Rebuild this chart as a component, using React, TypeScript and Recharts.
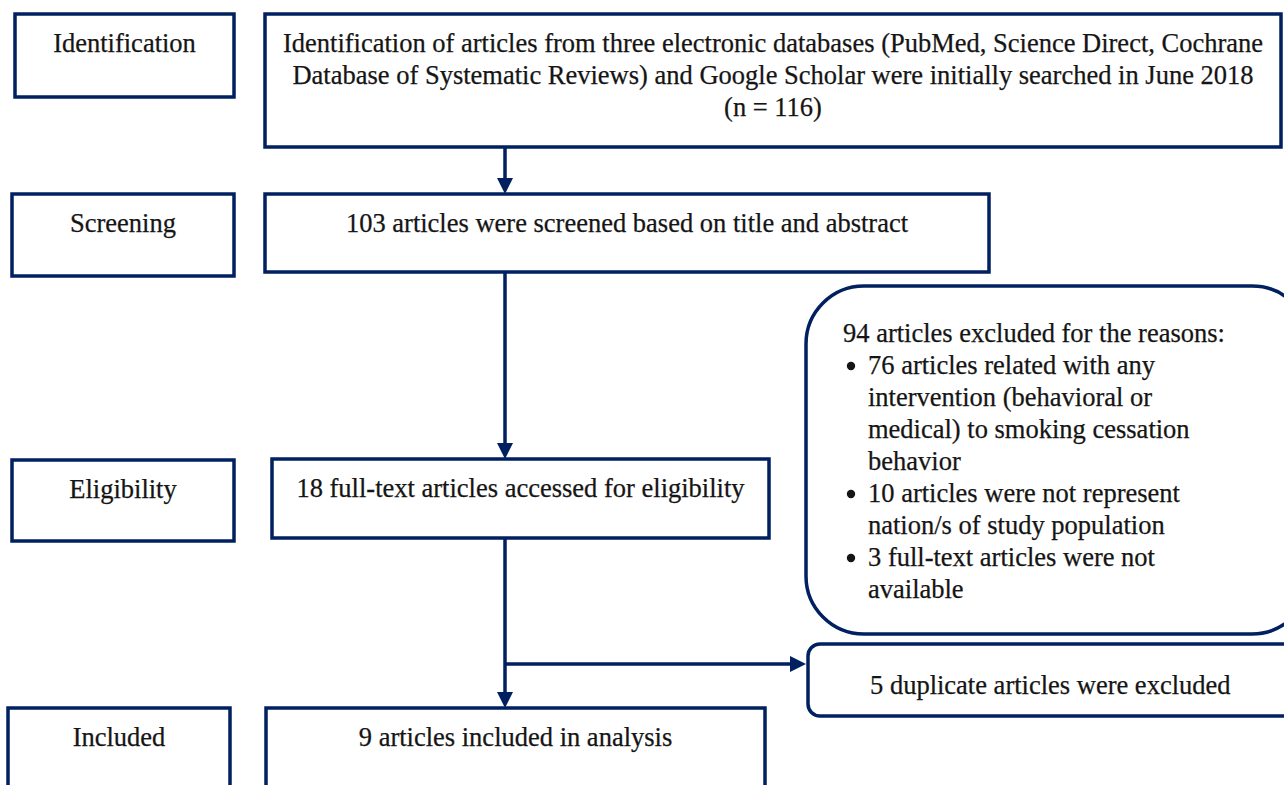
import React from 'react';
import { ComposedChart, XAxis, YAxis, ReferenceArea, ReferenceLine } from 'recharts';

// the page keeps the browser default 8px margin, drop it
document.body.style.margin = '0';

const NAVY = '#002060';
const INK = '#151515';
const FONT = 'Liberation Serif, Tinos, Times New Roman, serif';
const W = 1284;
const H = 785;

// texts of the flow
const stageLabels = ['Identification', 'Screening', 'Eligibility', 'Included'];
const stepTexts = [
  [
    'Identification of articles from three electronic databases (PubMed, Science Direct, Cochrane',
    'Database of Systematic Reviews) and Google Scholar were initially searched in June 2018',
    '(n = 116)',
  ],
  ['103 articles were screened based on title and abstract'],
  ['18 full-text articles accessed for eligibility'],
  ['9 articles included in analysis'],
];
const exclusionTitle = '94 articles excluded for the reasons:';
const exclusionReasons = [
  ['76 articles related with any', 'intervention (behavioral or', 'medical) to smoking cessation', 'behavior'],
  ['10 articles were not represent', 'nation/s of study population'],
  ['3 full-text articles were not', 'available'],
];
const duplicateText = '5 duplicate articles were excluded';

// layout in chart units: [x1, x2, y1, y2], y runs top-down
const labelBoxes = [
  [15, 234, 14, 97],
  [12, 234, 194, 276],
  [12, 234, 460, 541],
  [8, 230, 708, 800],
];
const stepBoxes = [
  [265, 1281, 14, 147],
  [265, 989, 194, 272],
  [272, 769, 459, 538],
  [266, 765, 708, 800],
];
const exclusionBox = [806, 1310, 286, 634];
const duplicateBox = [808, 1310, 644, 716];

// arrows: [from, to]
const arrows = [
  [[505, 147], [505, 194]],
  [[505, 272], [505, 459]],
  [[505, 538], [505, 708]],
  [[505, 664], [806, 664]],
];

const LINE_H = 32;
const FONT_SIZE = 26.5;

type TextLine = { text: string; dx: number; bullet?: boolean };

const textStyle = { fontFamily: FONT, fontSize: FONT_SIZE, fill: INK, stroke: INK, strokeWidth: 0.25 };

function renderBox(p: any, lines: TextLine[], opts: { rx: number; top: number; center?: boolean }) {
  const { x, y, width, height } = p;
  return (
    <g>
      <rect
        x={x}
        y={y}
        width={width}
        height={height}
        rx={opts.rx}
        ry={opts.rx}
        fill="#fff"
        stroke={NAVY}
        strokeWidth={3.5}
      />
      {lines.map((l, i) => {
        const ty = y + opts.top + i * LINE_H;
        const tx = opts.center ? x + width / 2 : x + l.dx;
        return (
          <g key={i}>
            {l.bullet && <circle cx={x + 45} cy={ty - 8} r={4.2} fill={INK} />}
            <text x={tx} y={ty} textAnchor={opts.center ? 'middle' : 'start'} style={textStyle}>
              {l.text}
            </text>
          </g>
        );
      })}
    </g>
  );
}

function renderArrow(p: any) {
  const { x1, y1, x2, y2 } = p;
  const ang = Math.atan2(y2 - y1, x2 - x1);
  const len = 16;
  const half = 8;
  const bx = x2 - len * Math.cos(ang);
  const by = y2 - len * Math.sin(ang);
  const nx = -Math.sin(ang) * half;
  const ny = Math.cos(ang) * half;
  return (
    <g>
      <line x1={x1} y1={y1} x2={bx} y2={by} stroke={NAVY} strokeWidth={3.5} />
      <polygon points={`${x2},${y2} ${bx + nx},${by + ny} ${bx - nx},${by - ny}`} fill={NAVY} />
    </g>
  );
}

const exclusionLines: TextLine[] = [
  { text: exclusionTitle, dx: 37 },
  ...exclusionReasons.flatMap((r) => r.map((t, j) => ({ text: t, dx: 62, bullet: j === 0 }))),
];

export default function App() {
  return (
    <div style={{ width: W, height: H, background: '#fff' }}>
      <ComposedChart width={W} height={H} margin={{ top: 0, right: 0, bottom: 0, left: 0 }}>
        <XAxis type="number" dataKey="x" domain={[0, W]} hide allowDataOverflow />
        <YAxis type="number" dataKey="y" domain={[0, H]} reversed hide allowDataOverflow />

        {arrows.map((a, i) => (
          <ReferenceLine
            key={`a${i}`}
            segment={[
              { x: a[0][0], y: a[0][1] },
              { x: a[1][0], y: a[1][1] },
            ]}
            ifOverflow="visible"
            shape={renderArrow}
          />
        ))}

        {labelBoxes.map((b, i) => (
          <ReferenceArea
            key={`l${i}`}
            x1={b[0]}
            x2={b[1]}
            y1={b[2]}
            y2={b[3]}
            ifOverflow="visible"
            shape={(p: any) => renderBox(p, [{ text: stageLabels[i], dx: 0 }], { rx: 0, top: 38, center: true })}
          />
        ))}

        {stepBoxes.map((b, i) => (
          <ReferenceArea
            key={`s${i}`}
            x1={b[0]}
            x2={b[1]}
            y1={b[2]}
            y2={b[3]}
            ifOverflow="visible"
            shape={(p: any) =>
              renderBox(
                p,
                stepTexts[i].map((t) => ({ text: t, dx: 0 })),
                { rx: 0, top: 38, center: true },
              )
            }
          />
        ))}

        <ReferenceArea
          x1={exclusionBox[0]}
          x2={exclusionBox[1]}
          y1={exclusionBox[2]}
          y2={exclusionBox[3]}
          ifOverflow="visible"
          shape={(p: any) => renderBox(p, exclusionLines, { rx: 58, top: 56 })}
        />

        <ReferenceArea
          x1={duplicateBox[0]}
          x2={duplicateBox[1]}
          y1={duplicateBox[2]}
          y2={duplicateBox[3]}
          ifOverflow="visible"
          shape={(p: any) => renderBox(p, [{ text: duplicateText, dx: 62 }], { rx: 12, top: 50 })}
        />
      </ComposedChart>
    </div>
  );
}
